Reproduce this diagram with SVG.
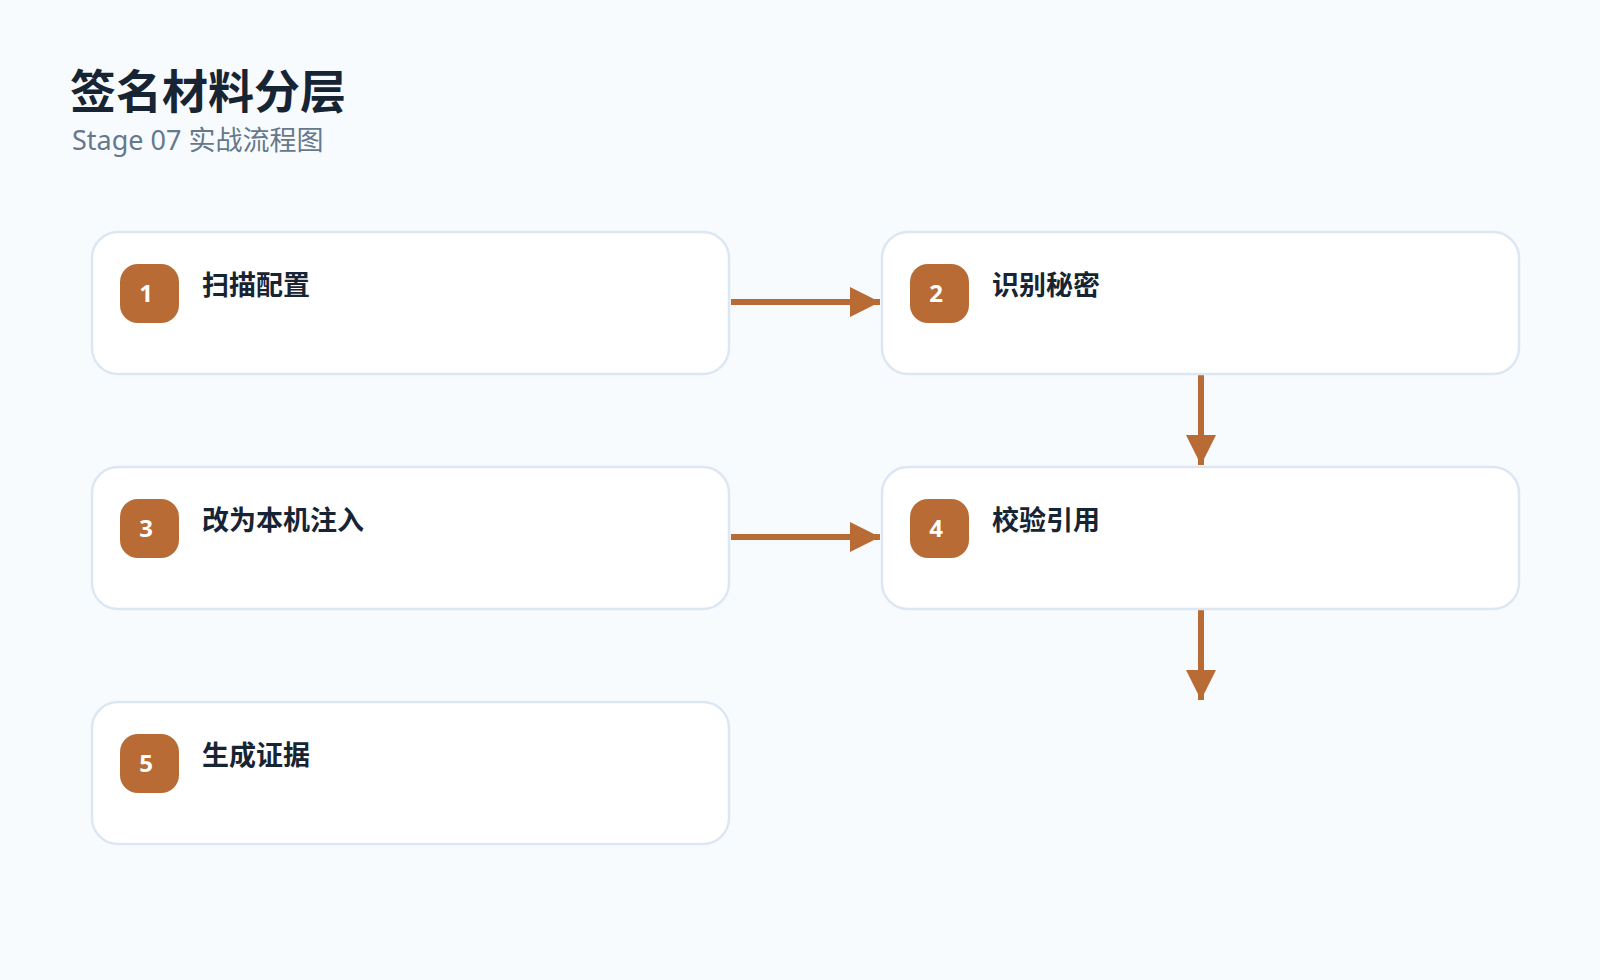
<svg xmlns="http://www.w3.org/2000/svg" width="1600" height="980" viewBox="0 0 1600 980">
<defs>
<style>
.box{fill:#ffffff;stroke:#dde7f3;stroke-width:2.5}
.badge{fill:#b86b35}
.num{fill:#ffffff;font-family:"Noto Sans","Noto Sans CJK SC",sans-serif;font-size:24px;font-weight:bold;text-anchor:middle}
.lbl{fill:#172433;font-family:"Noto Sans CJK SC",sans-serif;font-size:27px;font-weight:bold}
.conn{stroke:#b86b35;stroke-width:6;fill:none}
</style>
<marker id="ah" viewBox="0 0 10 10" refX="10" refY="5" markerWidth="5" markerHeight="5" orient="auto" markerUnits="strokeWidth"><path d="M0,0L10,5L0,10z" fill="#b86b35"/></marker>
</defs>
<rect width="1600" height="980" fill="#f7fbfe"/>
<text x="70" y="108" font-family="Noto Sans CJK SC,sans-serif" font-size="46" font-weight="bold" fill="#172433">签名材料分层</text>
<text x="72" y="150" font-family="Noto Sans,Noto Sans CJK SC,sans-serif" font-size="27" fill="#66788b">Stage 07 实战流程图</text>
<g id="connectors">
<line class="conn" x1="731" y1="302" x2="880" y2="302" marker-end="url(#ah)"/>
<line class="conn" x1="1201" y1="375" x2="1201" y2="465" marker-end="url(#ah)"/>
<line class="conn" x1="731" y1="537" x2="880" y2="537" marker-end="url(#ah)"/>
<line class="conn" x1="1201" y1="610" x2="1201" y2="700" marker-end="url(#ah)"/>
</g>
<g id="n1"><rect class="box" x="92" y="232" width="637" height="142" rx="26"/><rect class="badge" x="120" y="264" width="59" height="59" rx="18"/><text class="num" x="146" y="302">1</text><text class="lbl" x="202" y="295">扫描配置</text></g>
<g id="n2"><rect class="box" x="882" y="232" width="637" height="142" rx="26"/><rect class="badge" x="910" y="264" width="59" height="59" rx="18"/><text class="num" x="936" y="302">2</text><text class="lbl" x="992" y="295">识别秘密</text></g>
<g id="n3"><rect class="box" x="92" y="467" width="637" height="142" rx="26"/><rect class="badge" x="120" y="499" width="59" height="59" rx="18"/><text class="num" x="146" y="537">3</text><text class="lbl" x="202" y="530">改为本机注入</text></g>
<g id="n4"><rect class="box" x="882" y="467" width="637" height="142" rx="26"/><rect class="badge" x="910" y="499" width="59" height="59" rx="18"/><text class="num" x="936" y="537">4</text><text class="lbl" x="992" y="530">校验引用</text></g>
<g id="n5"><rect class="box" x="92" y="702" width="637" height="142" rx="26"/><rect class="badge" x="120" y="734" width="59" height="59" rx="18"/><text class="num" x="146" y="772">5</text><text class="lbl" x="202" y="765">生成证据</text></g>
</svg>
